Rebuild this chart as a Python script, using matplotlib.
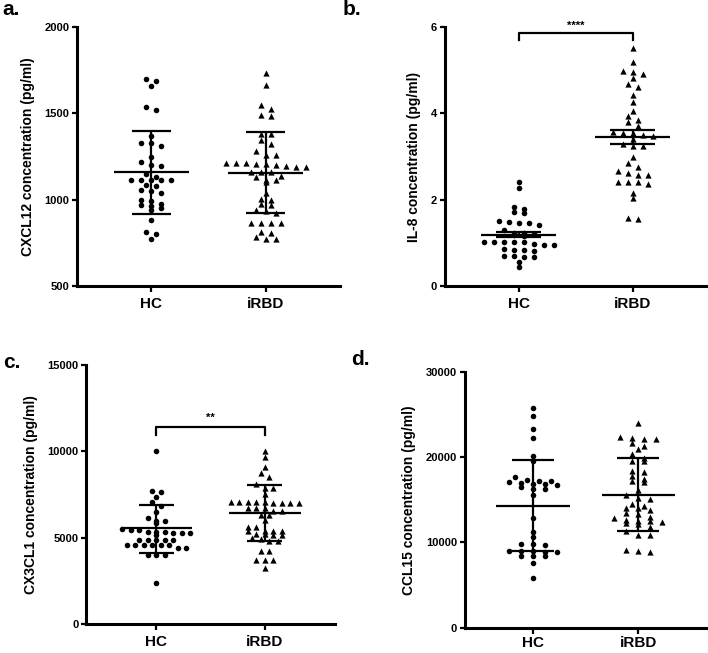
import numpy as np
import matplotlib
matplotlib.use("Agg")
import matplotlib.pyplot as plt

plt.rcParams['font.family'] = ['Liberation Sans', 'DejaVu Sans']
plt.rcParams['font.weight'] = 'bold'
plt.rcParams['axes.labelweight'] = 'bold'

groups = ['HC', 'iRBD']

# a. CXCL12 (pg/ml)
cxcl12_hc = [1697, 1686, 1661, 1537, 1518, 1371, 1330, 1330, 1311, 1249, 1217, 1201,
             1195, 1150, 1133, 1114, 1114, 1114, 1114, 1114, 1085, 1080, 1055, 1050,
             1040, 1000, 990, 975, 970, 965, 950, 940, 885, 815, 800, 770]
cxcl12_irbd = [1734, 1663, 1547, 1528, 1493, 1483, 1383, 1383, 1344, 1321, 1283, 1258,
               1258, 1215, 1215, 1212, 1209, 1205, 1200, 1196, 1192, 1190, 1161, 1161,
               1161, 1138, 1132, 1113, 1113, 1100, 1036, 1003, 997, 974, 968, 940, 935,
               920, 866, 866, 866, 866, 815, 805, 782, 772, 772]
cxcl12_mean = [1160, 1155]
cxcl12_lo = [918, 920]
cxcl12_hi = [1400, 1393]

# b. IL-8 (pg/ml), mean +/- SEM
il8_hc = [2.42, 2.26, 1.84, 1.78, 1.71, 1.70, 1.51, 1.49, 1.47, 1.45, 1.41, 1.30, 1.23,
          1.22, 1.20, 1.18, 1.15, 1.03, 1.03, 1.03, 1.03, 1.02, 0.97, 0.95, 0.95, 0.85,
          0.83, 0.83, 0.82, 0.69, 0.69, 0.68, 0.67, 0.56, 0.43]
il8_irbd = [5.51, 5.20, 4.97, 4.96, 4.92, 4.83, 4.69, 4.61, 4.42, 4.26, 4.05, 3.94, 3.85,
            3.80, 3.70, 3.57, 3.54, 3.54, 3.51, 3.47, 3.41, 3.30, 3.24, 3.24, 2.99, 2.86,
            2.76, 2.66, 2.62, 2.58, 2.58, 2.42, 2.42, 2.42, 2.37, 2.15, 2.04, 1.58, 1.56]
il8_mean = [1.19, 3.45]
il8_lo = [1.13, 3.29]
il8_hi = [1.26, 3.61]

# c. CX3CL1 (pg/ml)
cx3cl1_hc = [10020, 7720, 7660, 7340, 7050, 6830, 6500, 6120, 5970, 5970, 5830, 5530,
             5450, 5440, 5310, 5310, 5310, 5300, 5300, 5290, 5150, 4870, 4870, 4860,
             4850, 4840, 4600, 4580, 4570, 4570, 4550, 4550, 4400, 4380, 4000, 3990,
             3980, 2400]
cx3cl1_irbd = [10040, 9690, 9070, 8730, 8530, 8090, 7900, 7860, 7510,
               7080, 7070, 7060, 7050, 7040, 7030, 7020, 7010, 7000,
               6730, 6720, 6700, 6540, 6530, 6310, 6300, 6020, 5640, 5630,
               5390, 5380, 5400, 5370, 5190, 5200, 5180, 5170, 4960, 4950, 4800, 4790,
               4230, 4220, 3710, 3700, 3690, 3220]
cx3cl1_mean = [5560, 6410]
cx3cl1_lo = [4110, 4810]
cx3cl1_hi = [6890, 8030]

# d. CCL15 (pg/ml)
ccl15_hc = [25760, 24790, 23250, 22290, 20150, 19580, 17650, 17340, 17140, 17140, 17070,
            16990, 16880, 16880, 16760, 16490, 16300, 16300, 15520, 12820, 11280, 10590,
            9810, 9810, 9730, 8960, 8960, 8960, 8900, 8900, 8380, 8380, 8380, 7610, 5870]
ccl15_irbd = [24020, 22400, 22280, 22090, 22090, 21620, 21240, 20930, 20350, 19850, 19500,
              19500, 18420, 18300, 17840, 17450, 17190, 17070, 16180, 15600, 15220, 15140,
              14560, 14290, 13980, 13980, 13780, 13400, 13290, 13020, 12820, 12630, 12560,
              12560, 12440, 12240, 12120, 11860, 11350, 10890, 10890, 9150, 8960, 8880]
ccl15_mean = [14290, 15600]
ccl15_lo = [8960, 11350]
ccl15_hi = [19700, 19850]


def swarm_offsets(ax, vals, step_px=9.5, row_px=4.5):
    # Prism-like rows: close values share a row, spread symmetrically
    bb = ax.get_window_extent()
    y0, y1 = ax.get_ylim()
    x0, x1 = ax.get_xlim()
    ypu = bb.height / (y1 - y0)
    xpu = bb.width / (x1 - x0)
    vals = np.asarray(vals, float)
    order = np.argsort(-vals, kind='stable')
    rows, cur = [], [order[0]]
    for i in order[1:]:
        if (vals[cur[0]] - vals[i]) * ypu < row_px:
            cur.append(i)
        else:
            rows.append(cur)
            cur = [i]
    rows.append(cur)
    offs = np.zeros(len(vals))
    for r in rows:
        n = len(r)
        for j, i in enumerate(r):
            offs[i] = (j - (n - 1) / 2) * step_px / xpu
    return offs


def draw_panel(ax, hc, irbd, mean, lo, hi, ylim, yticks, ylabel,
               half=0.33, cap=0.17, xpad=4, step=9.5):
    ax.set_xlim(-0.65, 1.65)
    ax.set_ylim(*ylim)
    for k, (vals, mk, s) in enumerate([(hc, 'o', 16), (irbd, '^', 20)]):
        xs = k + swarm_offsets(ax, vals, step_px=step)
        ax.scatter(xs, vals, marker=mk, s=s, color='black', linewidths=0,
                   zorder=2, clip_on=False)
        ax.hlines(mean[k], k - half, k + half, color='black', lw=1.6, zorder=3)
        ax.vlines(k, lo[k], hi[k], color='black', lw=1.6, zorder=3)
        ax.hlines([lo[k], hi[k]], k - cap, k + cap, color='black', lw=1.6, zorder=3)
    ax.set_yticks(yticks)
    ax.set_xticks([0, 1])
    ax.set_xticklabels(groups, fontsize=11, fontweight='bold')
    ax.set_ylabel(ylabel, fontsize=10, fontweight='bold', labelpad=7)
    ax.tick_params(axis='y', labelsize=8, length=3.5, width=1.6, pad=2)
    ax.tick_params(axis='x', length=4, width=1.6, pad=xpad)
    for sp in ['top', 'right']:
        ax.spines[sp].set_visible(False)
    for sp in ['left', 'bottom']:
        ax.spines[sp].set_linewidth(2.2)


def bracket(ax, y, drop, text, ty):
    ax.plot([0, 0, 1, 1], [y - drop, y, y, y - drop], color='black', lw=1.6,
            clip_on=False)
    ax.text(0.5, ty, text, ha='center', va='center', fontsize=8, fontweight='bold')


fig = plt.figure(figsize=(7.08, 6.53), dpi=100)

ax_a = fig.add_axes([0.1088, 0.562, 0.3715, 0.3966])
ax_b = fig.add_axes([0.628, 0.562, 0.370, 0.3966])
ax_c = fig.add_axes([0.1215, 0.0444, 0.352, 0.3966])
ax_d = fig.add_axes([0.6564, 0.0385, 0.342, 0.3923])

draw_panel(ax_a, cxcl12_hc, cxcl12_irbd, cxcl12_mean, cxcl12_lo, cxcl12_hi,
           (500, 2000), [500, 1000, 1500, 2000], 'CXCL12 concentration (pg/ml)',
           step=10)
draw_panel(ax_b, il8_hc, il8_irbd, il8_mean, il8_lo, il8_hi,
           (0, 6), [0, 2, 4, 6], 'IL-8 concentration (pg/ml)', cap=0.2, step=10)
draw_panel(ax_c, cx3cl1_hc, cx3cl1_irbd, cx3cl1_mean, cx3cl1_lo, cx3cl1_hi,
           (0, 15000), [0, 5000, 10000, 15000], 'CX3CL1 concentration (pg/ml)',
           cap=0.16, step=8.5)
draw_panel(ax_d, ccl15_hc, ccl15_irbd, ccl15_mean, ccl15_lo, ccl15_hi,
           (0, 30000), [0, 10000, 20000, 30000], 'CCL15 concentration (pg/ml)',
           half=0.35, cap=0.2, xpad=2, step=12)

bracket(ax_b, 5.87, 0.16, '****', 6.03)
bracket(ax_c, 11430, 480, '**', 11950)

fig.text(0.003, 1 - 15 / 653, 'a.', fontsize=15, fontweight='bold')
fig.text(343 / 708, 1 - 15 / 653, 'b.', fontsize=15, fontweight='bold')
fig.text(0.004, 1 - 368 / 653, 'c.', fontsize=15, fontweight='bold')
fig.text(351 / 708, 1 - 365 / 653, 'd.', fontsize=15, fontweight='bold')

fig.savefig('out.png', dpi=100)
